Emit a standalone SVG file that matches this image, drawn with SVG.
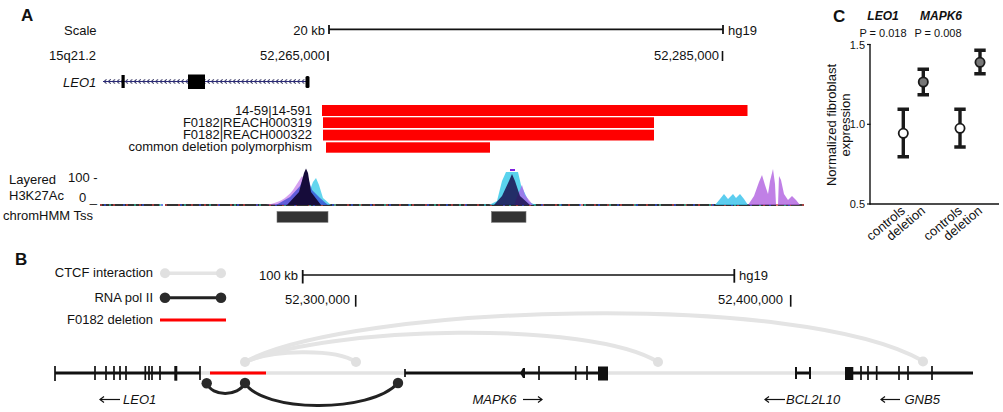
<svg xmlns="http://www.w3.org/2000/svg" width="1003" height="412" viewBox="0 0 1003 412">
<style>
.t{font-family:"Liberation Sans",Arial,Helvetica,sans-serif;font-size:13px;fill:#111}
.s11{font-size:11px}
.s12{font-size:12px}
.it{font-style:italic}
.bd{font-weight:bold}
.pl{font-family:"Liberation Sans",Arial,Helvetica,sans-serif;font-size:17px;font-weight:bold;fill:#111}
.r{text-anchor:end}
.m{text-anchor:middle}
.ln{stroke:#111;fill:none}
.blk{stroke:#111;stroke-width:3;fill:none}
.gry{stroke:#e3e3e3;stroke-width:3.5;fill:none}
.tk{stroke:#111;stroke-width:1.7}
.ctcf{stroke:#e4e4e4;stroke-width:4;fill:none}
.pol{stroke:#222;stroke-width:3;fill:none}
.cc{fill:#e0e0e0}
.pc{fill:#2a2a2a}
.red{fill:#ff0000}
.eb{stroke:#1a1a1a;stroke-width:3.4;fill:none}
.pt{stroke:#1a1a1a;stroke-width:1.8}
</style>
<defs>
<pattern id="chev" x="0" y="77" width="4.3" height="10" patternUnits="userSpaceOnUse">
<path d="M3.2,2.3 L0.9,4.5 L3.2,6.7" fill="none" stroke="#1c1c50" stroke-width="0.9"/>
</pattern>
</defs>

<!-- Panel A -->
<g id="panelA">
<text class="pl" x="21" y="21">A</text>
<g id="scaleA">
<text class="t" x="64" y="35">Scale</text>
<text class="t r" x="325" y="35">20 kb</text>
<line class="ln" x1="329" y1="29.3" x2="723" y2="29.3" stroke-width="1.8"/>
<line class="ln" x1="329" y1="25" x2="329" y2="34" stroke-width="1.8"/>
<line class="ln" x1="723" y1="25" x2="723" y2="34" stroke-width="1.8"/>
<text class="t" x="728" y="35">hg19</text>
</g>
<g id="coordA">
<text class="t" x="49" y="60">15q21.2</text>
<text class="t r" x="325" y="60">52,265,000</text>
<line class="ln" x1="328" y1="51" x2="328" y2="61" stroke-width="1.6"/>
<text class="t r" x="719" y="60">52,285,000</text>
<line class="ln" x1="722.5" y1="51" x2="722.5" y2="61" stroke-width="1.6"/>
</g>
<g id="leo1A">
<text class="t it" x="63" y="87">LEO1</text>
<rect x="103" y="77" width="203" height="10" fill="url(#chev)"/>
<line x1="103" y1="81.5" x2="306" y2="81.5" stroke="#2a2a78" stroke-width="1.1"/>
<rect x="121.5" y="75" width="3.2" height="13" fill="#000"/>
<rect x="188" y="74.5" width="17" height="14.5" fill="#000"/>
<rect x="305.5" y="76" width="4" height="12" rx="1.5" fill="#000"/>
</g>
<g id="deletions">
<text class="t r" x="312" y="115">14-59|14-591</text>
<rect class="red" x="322" y="105" width="425.5" height="11"/>
<text class="t r" x="312" y="127">F0182|REACH000319</text>
<rect class="red" x="323" y="117.3" width="331" height="10.7"/>
<text class="t r" x="312" y="139">F0182|REACH000322</text>
<rect class="red" x="323" y="129.7" width="331" height="10.8"/>
<text class="t r" x="312" y="151">common deletion polymorphism</text>
<rect class="red" x="326" y="142.3" width="164" height="10.4"/>
</g>
<g id="h3k27ac">
<text class="t" x="9" y="184">Layered</text>
<text class="t" x="9" y="200">H3K27Ac</text>
<text class="t" x="68" y="182">100 -</text>
<text class="t" x="79" y="202">0 _</text>
<line x1="100" y1="205" x2="160" y2="205" stroke="#333" stroke-width="1.8"/>
<line x1="165" y1="205" x2="580" y2="205" stroke="#333" stroke-width="1.8"/>
<line x1="583" y1="205" x2="776" y2="205" stroke="#333" stroke-width="1.8"/>
<line x1="778" y1="205" x2="804" y2="205" stroke="#333" stroke-width="1.8"/>
<line x1="100" y1="205" x2="804" y2="205" stroke="#d04040" stroke-width="1.8" stroke-dasharray="2 11" opacity="0.7"/>
<line x1="104" y1="205" x2="804" y2="205" stroke="#3050e0" stroke-width="1.8" stroke-dasharray="2 17" opacity="0.7"/>
<line x1="109" y1="205" x2="804" y2="205" stroke="#30c0a0" stroke-width="1.8" stroke-dasharray="2 23" opacity="0.7"/>
<!-- peak 1 -->
<path d="M266,205 C278,203 286,199 293,190 L302,176 L310,190 L318,200 L330,205 Z" fill="#c070e8" opacity="0.65"/>
<path d="M300,205 L308,195 L313,182 L316,178 L319,185 L323,198 L331,205 Z" fill="#30c8e8" opacity="0.75"/>
<path d="M276,205 L290,197 L300,186 L306,172 L312,190 L320,198 L328,205 Z" fill="#3040d0" opacity="0.7"/>
<path d="M287,205 L299,192 L304,173 L306,168.5 L308,173 L311,192 L321,205 Z" fill="#160c3a"/>
<!-- peak 2 -->
<path d="M489,205 L497,201 L502,181 L506,172 L518,172 L521,185 L529,202 L536,205 Z" fill="#30c8e8" opacity="0.8"/>
<path d="M514,205 L519,192 L522,185 L525,195 L533,205 Z" fill="#b060e8" opacity="0.75"/>
<path d="M494,205 L502,196 L509,181 L512,174 L515,181 L520,196 L530,205 Z" fill="#1a1050" opacity="0.85"/>
<rect x="510" y="169" width="5" height="2" fill="#8020e0"/>
<!-- peak 3 -->
<path d="M715,205 L720,199 L724,194 L728,199 L733,194 L736,198 L740,194 L744,199 L748,205 Z" fill="#40c4ec" opacity="0.85"/>
<path d="M748,205 L754,196 L759,182 L762,175 L765,185 L768,194 L770,181 L773,169 L775,184 L776,205 Z" fill="#b060e0" opacity="0.8"/>
<path d="M778,205 L779,176 L781,180 L784,194 L788,200 L792,196 L796,200 L800,205 Z" fill="#b060e0" opacity="0.8"/>
</g>
<g id="chromhmm">
<text class="t" x="3" y="220">chromHMM Tss</text>
<rect x="277" y="211.5" width="51" height="10.8" fill="#333" stroke="#777" stroke-width="0.6"/>
<rect x="491.5" y="211.5" width="34.5" height="10.8" fill="#333" stroke="#777" stroke-width="0.6"/>
</g>
</g>

<!-- Panel C -->
<g id="panelC">
<text class="pl" x="833" y="22">C</text>
<text class="t s12 bd it m" x="883" y="20">LEO1</text>
<text class="t s12 bd it m" x="941" y="20">MAPK6</text>
<text class="t s11 m" x="883" y="37">P = 0.018</text>
<text class="t s11 m" x="938" y="37">P = 0.008</text>
<g id="axes">
<line class="ln" x1="870" y1="44" x2="870" y2="204.5" stroke-width="1.4"/>
<line class="ln" x1="869.5" y1="204" x2="999" y2="204" stroke-width="1.4"/>
<line class="ln" x1="867" y1="44.5" x2="870.5" y2="44.5" stroke-width="1.2"/>
<line class="ln" x1="867" y1="124.3" x2="870.5" y2="124.3" stroke-width="1.2"/>
<line class="ln" x1="867" y1="204" x2="870.5" y2="204" stroke-width="1.2"/>
<text class="t s11 r" x="865" y="48.5">1.5</text>
<text class="t s11 r" x="865" y="128.3">1.0</text>
<text class="t s11 r" x="865" y="208">0.5</text>
<text class="t m" transform="translate(836,125) rotate(-90)">Normalized fibroblast</text>
<text class="t m" transform="translate(850,125) rotate(-90)">expression</text>
</g>
<g id="ctrlLEO1">
<path class="eb" d="M903.3,108 V158 M897.5,109.3 H909 M897.5,156.7 H909"/>
<circle class="pt" cx="903.3" cy="133.3" r="4.6" fill="#fff"/>
</g>
<g id="delLEO1">
<path class="eb" d="M923.3,68 V96 M917.5,69.3 H929 M917.5,94.7 H929"/>
<circle class="pt" cx="923.3" cy="82" r="4.6" fill="#777"/>
</g>
<g id="ctrlMAPK6">
<path class="eb" d="M960,108 V148.3 M954.3,109.3 H965.7 M954.3,147 H965.7"/>
<circle class="pt" cx="960" cy="128.3" r="4.6" fill="#fff"/>
</g>
<g id="delMAPK6">
<path class="eb" d="M980,49 V75 M974.3,50.3 H985.7 M974.3,73.7 H985.7"/>
<circle class="pt" cx="980" cy="62.3" r="4.6" fill="#777"/>
</g>
<g id="xlabels">
<text class="t r" transform="translate(906,212) rotate(-40)">controls</text>
<text class="t r" transform="translate(926,212) rotate(-40)">deletion</text>
<text class="t r" transform="translate(963,212) rotate(-40)">controls</text>
<text class="t r" transform="translate(983,212) rotate(-40)">deletion</text>
</g>
</g>

<!-- Panel B -->
<g id="panelB">
<text class="pl" x="15" y="265">B</text>
<g id="legend">
<text class="t r" x="153" y="277">CTCF interaction</text>
<line x1="165" y1="273.3" x2="221" y2="273.3" stroke="#e4e4e4" stroke-width="3.5"/>
<circle class="cc" cx="165" cy="273.3" r="5"/>
<circle class="cc" cx="221" cy="273.3" r="5"/>
<text class="t r" x="153" y="302">RNA pol II</text>
<line x1="165" y1="297.7" x2="221" y2="297.7" stroke="#222" stroke-width="3"/>
<circle class="pc" cx="165" cy="297.7" r="5.3"/>
<circle class="pc" cx="221" cy="297.7" r="5.3"/>
<text class="t r" x="153" y="324">F0182 deletion</text>
<line x1="160" y1="320" x2="226" y2="320" stroke="#ff0000" stroke-width="3"/>
</g>
<g id="scaleB">
<text class="t r" x="298" y="280">100 kb</text>
<line class="ln" x1="302.7" y1="275" x2="734.3" y2="275" stroke-width="1.6"/>
<line class="ln" x1="302.7" y1="270" x2="302.7" y2="283.5" stroke-width="1.8"/>
<line class="ln" x1="734.3" y1="269" x2="734.3" y2="282.7" stroke-width="1.8"/>
<text class="t" x="739" y="280">hg19</text>
<text class="t r" x="350" y="304">52,300,000</text>
<line class="ln" x1="355.7" y1="295" x2="355.7" y2="306.7" stroke-width="1.6"/>
<text class="t r" x="783" y="304">52,400,000</text>
<line class="ln" x1="790.7" y1="295" x2="790.7" y2="306.7" stroke-width="1.6"/>
</g>
<g id="connectors">
<path class="ctcf" d="M245,362 C350,305 800,290 923,361"/>
<path class="ctcf" d="M245,362 C330,326 590,320 658,362"/>
<path class="ctcf" d="M245,362 C270,350 335,348 356,362"/>
<path class="pol" d="M206.7,383 C212,397 238,397 245,383"/>
<path class="pol" d="M245,383 C262,412 370,414 398,383"/>
</g>
<g id="track">
<line class="gry" x1="200" y1="373" x2="405" y2="373"/>
<line class="gry" x1="608" y1="373" x2="796" y2="373"/>
<line class="gry" x1="810" y1="373" x2="845" y2="373"/>
<line x1="210" y1="373" x2="266" y2="373" stroke="#ff0000" stroke-width="3"/>
</g>
<g id="geneLEO1">
<line class="blk" x1="55" y1="373" x2="200" y2="373"/>
<path class="tk" d="M55,366 V381 M95,366 V380 M106,366 V380 M114,366 V380 M120,366 V380 M126,366 V380 M145.3,366 V380 M149,366 V380 M152,366 V380 M160,366 V380 M200,366 V380"/>
<rect x="174.3" y="366" width="3" height="14.7" fill="#111"/>
<line x1="100" y1="399.5" x2="120" y2="399.5" stroke="#111" stroke-width="1.2"/>
<path d="M104,396.5 L100,399.5 L104,402.5" fill="none" stroke="#111" stroke-width="1.2"/>
<text class="t it" x="123" y="404">LEO1</text>
</g>
<g id="geneMAPK6">
<line class="blk" x1="405" y1="373" x2="598" y2="373"/>
<path class="tk" d="M405,369 V377 M539,366 V380 M575.7,366 V380 M587,366 V380"/>
<path d="M520,373 L523,368 L525,368 L525,378 L523,378 Z" fill="#111"/>
<rect x="598" y="366.5" width="10" height="14" fill="#111"/>
<text class="t it" x="472.5" y="404">MAPK6</text>
<line x1="523" y1="399.5" x2="542" y2="399.5" stroke="#111" stroke-width="1.2"/>
<path d="M538,396.5 L542,399.5 L538,402.5" fill="none" stroke="#111" stroke-width="1.2"/>
</g>
<g id="geneBCL2L10">
<line class="blk" x1="796" y1="373" x2="810" y2="373"/>
<path d="M796,367 V379 M810,367 V379" stroke="#111" stroke-width="2"/>
<line x1="765" y1="399.5" x2="785" y2="399.5" stroke="#111" stroke-width="1.2"/>
<path d="M769,396.5 L765,399.5 L769,402.5" fill="none" stroke="#111" stroke-width="1.2"/>
<text class="t it" x="786" y="404">BCL2L10</text>
</g>
<g id="geneGNB5">
<line class="blk" x1="845" y1="373" x2="973" y2="373"/>
<rect x="845" y="367" width="8.3" height="13" fill="#111"/>
<path class="tk" d="M861,366 V380 M868,366 V380 M876.7,366 V380 M899,366 V380 M908,366 V380 M932,366 V380"/>
<line x1="881" y1="399.5" x2="900" y2="399.5" stroke="#111" stroke-width="1.2"/>
<path d="M885,396.5 L881,399.5 L885,402.5" fill="none" stroke="#111" stroke-width="1.2"/>
<text class="t it" x="904.5" y="404">GNB5</text>
</g>
<g id="nodes">
<circle class="cc" cx="245" cy="362" r="5"/>
<circle class="cc" cx="356" cy="362" r="5"/>
<circle class="cc" cx="658" cy="362" r="5"/>
<circle class="cc" cx="923" cy="361.5" r="5"/>
<circle class="pc" cx="206.7" cy="383.3" r="5.2"/>
<circle class="pc" cx="245" cy="383" r="5.2"/>
<circle class="pc" cx="398" cy="383" r="5.2"/>
</g>
</g>
</svg>
